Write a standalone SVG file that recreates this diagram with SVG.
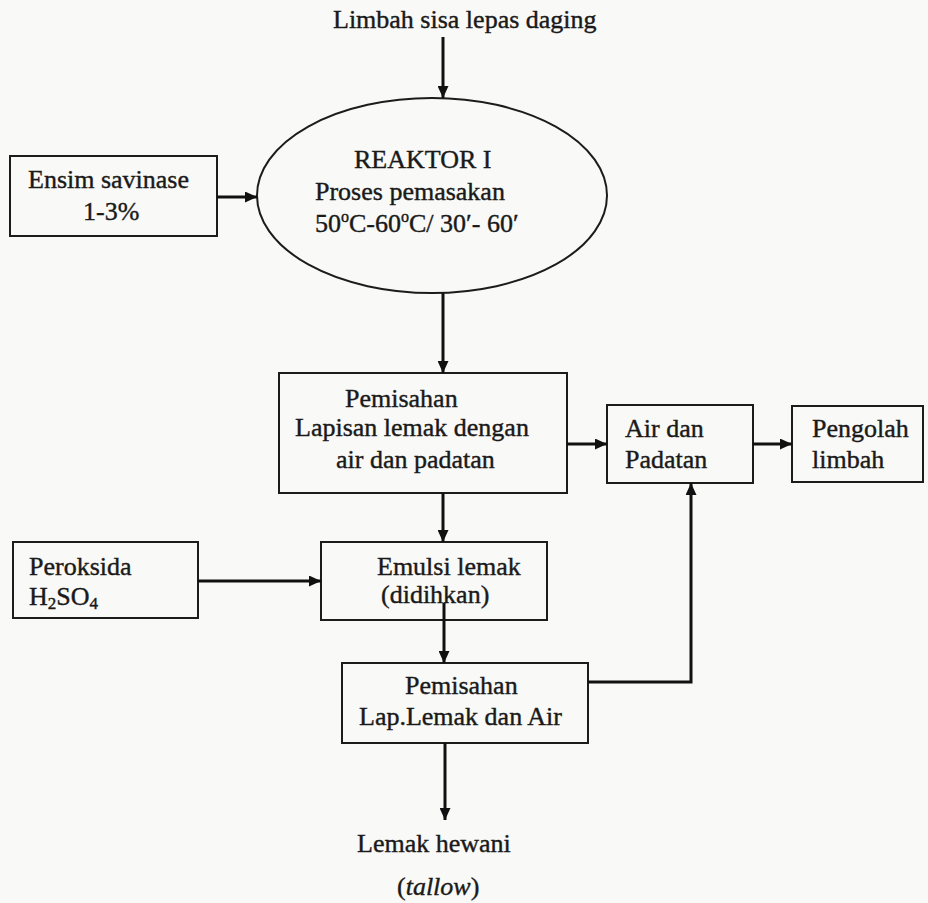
<svg xmlns="http://www.w3.org/2000/svg" width="928" height="903" viewBox="0 0 928 903">
<style>
.bg{fill:#f9f9f7}
.box{fill:none;stroke:#1c1c1c;stroke-width:2}
.t{font-family:"Liberation Serif","Times New Roman",serif;font-size:26px;fill:#1a1a1a;stroke:#1a1a1a;stroke-width:0.4}
.conn path{fill:none;stroke:#111;stroke-width:3}
</style>
<defs>
<marker id="ah" markerUnits="userSpaceOnUse" markerWidth="12" markerHeight="11" refX="12" refY="5.5" orient="auto">
<path d="M0,0 L12,5.5 L0,11 z" fill="#111"/>
</marker>
</defs>
<rect class="bg" x="0" y="0" width="928" height="903"/>

<g id="source">
<text class="t" x="333" y="28">Limbah sisa lepas daging</text>
</g>

<g id="ensim">
<rect class="box" x="10" y="156" width="207" height="80"/>
<text class="t" x="28" y="188">Ensim savinase</text>
<text class="t" x="83" y="220">1-3%</text>
</g>

<g id="reaktor">
<ellipse class="box" cx="432" cy="195.5" rx="175" ry="97.5"/>
<text class="t" x="354" y="168">REAKTOR I</text>
<text class="t" x="315" y="200">Proses pemasakan</text>
<text class="t" x="315" y="232">50<tspan font-size="16" dy="-10">o</tspan><tspan dy="10">C-60</tspan><tspan font-size="16" dy="-10">o</tspan><tspan dy="10">C/ 30′- 60′</tspan></text>
</g>

<g id="pemisahan1">
<rect class="box" x="279" y="373" width="288" height="120"/>
<text class="t" x="345" y="407">Pemisahan</text>
<text class="t" x="295" y="436">Lapisan lemak dengan</text>
<text class="t" x="336" y="468">air dan padatan</text>
</g>

<g id="air-padatan">
<rect class="box" x="607" y="405" width="146" height="78"/>
<text class="t" x="625" y="437">Air dan</text>
<text class="t" x="625" y="468">Padatan</text>
</g>

<g id="pengolah">
<rect class="box" x="792" y="406" width="131" height="76"/>
<text class="t" x="812" y="437">Pengolah</text>
<text class="t" x="812" y="468">limbah</text>
</g>

<g id="peroksida">
<rect class="box" x="13" y="542" width="185" height="76"/>
<text class="t" x="29" y="575">Peroksida</text>
<text class="t" x="29" y="605">H<tspan font-size="17" dy="4">2</tspan><tspan dy="-4">SO</tspan><tspan font-size="17" dy="4">4</tspan></text>
</g>

<g id="emulsi">
<rect class="box" x="321" y="542" width="226" height="78"/>
<text class="t" x="377" y="575">Emulsi lemak</text>
<text class="t" x="381" y="603">(didihkan)</text>
</g>

<g id="pemisahan2">
<rect class="box" x="342" y="663" width="246" height="80"/>
<text class="t" x="405" y="694">Pemisahan</text>
<text class="t" x="359" y="725">Lap.Lemak dan Air</text>
</g>

<g id="lemak-hewani">
<text class="t" x="357" y="852">Lemak hewani</text>
<text class="t" x="397" y="895">(<tspan font-style="italic">tallow</tspan>)</text>
</g>

<g id="connectors" class="conn">
<path d="M443,37 V98" marker-end="url(#ah)"/>
<path d="M217,197 H257" marker-end="url(#ah)"/>
<path d="M443,293 V373" marker-end="url(#ah)"/>
<path d="M567,444 H607" marker-end="url(#ah)"/>
<path d="M753,444 H792" marker-end="url(#ah)"/>
<path d="M443,493 V542" marker-end="url(#ah)"/>
<path d="M198,581 H321" marker-end="url(#ah)"/>
<path d="M444,603 V663" marker-end="url(#ah)"/>
<path d="M588,682 H691 V483" marker-end="url(#ah)"/>
<path d="M445,743 V820" marker-end="url(#ah)"/>
</g>
</svg>
